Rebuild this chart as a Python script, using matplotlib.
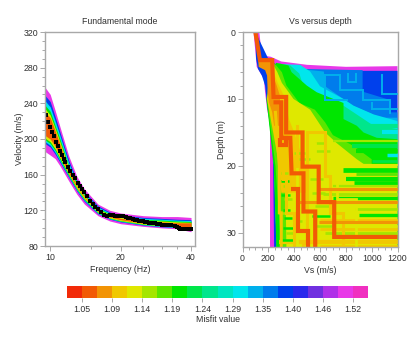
import matplotlib
matplotlib.use("Agg")
import matplotlib.pyplot as plt
from matplotlib.colors import ListedColormap
from matplotlib.ticker import FixedLocator, NullFormatter, FixedFormatter

plt.rcParams['font.family'] = ['Liberation Sans', 'DejaVu Sans']
FS = 6.3

W, H = 413, 358
GRAY = '#a8a8a8'
TXT = '#303030'

colors = ['#f22a08','#f25a05','#f29405','#f0c800','#dfe800','#a4e600','#5ae600','#00e600','#00e64a','#00e68c',
          '#00e6c0','#00e6ec','#00b0ec','#007cec','#0040ec','#2a28ec','#7030e0','#b030e8','#e838e8','#f030c0']
cbar_labels = ['1.05','1.09','1.14','1.19','1.24','1.29','1.35','1.40','1.46','1.52']

# --- dispersion curves
freq = [9.5,10,10.5,11,12,13,14,16,18,20,25,30,35,40]
mag_up = [258,250,232,214,181,158,144,127,120,117,114,113,113,112]
blu_up = [249,242,225,208,176,154,141,125,118,115,112,111,110,109.5]
cya_up = [243,236,220,204,173,152,139,123.5,117,114,111,110,109,108.5]
grn_up = [238,231,215,200,170,150,137.5,122.5,116,113,110,109,108,107.5]
yel_up = [234,227,212,197,168,148.5,136.5,121.5,115,112,109,108,107,106.5]
org_up = [230,224,209,194,166,147,135.5,120.5,114.5,111,108,107,106,106]
org_lo = [204,200,192,181,162,146,134.5,119,112.5,109.5,105.5,103.5,102.5,98.5]
yel_lo = [201,197,189,179,160.5,144.5,133,118,111.5,108.5,104.7,102.8,101.8,98]
grn_lo = [199,195,187,177,159,143.5,132,117.2,111,108,104.2,102.3,101.3,97.7]
cya_lo = [197,193,185,175.5,158,142.5,131,116.5,110.5,107.5,103.8,101.9,100.9,97.4]
blu_lo = [195,191,183,174,157,141.5,130,116,110,107,103.4,101.5,100.5,97.1]
mag_lo = [186,182,178,170,153,138,127,114,108,105,102,100.3,99.3,96]

obs_f = [9.6,9.8,10,10.2,10.4,10.6,10.8,11,11.2,11.4,11.6,11.9,12.2,12.5,12.8,13.1,13.4,13.7,14,14.4,14.8,15.2,15.6,
         16,16.5,17,17.5,18,18.5,19,19.5,20,20.5,21,21.5,22,22.5,23,23.5,24,24.5,25,25.5,26,26.5,27,27.5,28,28.5,29,
         29.5,30,31,32,33,34,35,35.5,36,36.5,37,37.5,38,38.5,39,39.5,40]
obs_v = [227,219,214,208,203,197,192,187,182,178,174,169,164,160,156,151,147,144,141,136,131,127,124,
         121,118,115,114,115,115,114,114,114,114,112,111,111,110,109,109,108,108,108,107,107,106,106,106,106,105,105,
         105,104,104,103,103,102,101,100,99,99,99,99,99,99,99,99,99]

# --- Vs profiles: broad colour regions
mag_vs = [85,100,110,165,175,190,205,213,213,1200,1200,800,500,300,220,150,130]
mag_d  = [0,3,5.2,7,9,11.5,13,14,32.2,32.2,5.1,5.2,4.9,4.4,3.7,3.5,0]
blue_vs = [200,240,300,500,800,1200,1200,245,237,225,195,175,150,120,105,100]
blue_d  = [4,4.6,5.2,5.6,5.8,5.8,32.2,32.2,20,14,11.5,8,6.5,5.5,4,0]
mid_vs = [400,930,930,1150,1150,1200,1200,265,250,230,200]
mid_d  = [5.5,5.7,8.9,10.2,12,12,32.2,32.2,24,14,10]
lblue_vs = [380,530,630,640,780,850,1010,1040,1200,1200,265,245,205]
lblue_d  = [5.4,5.7,5.9,8.1,10,11,12.3,12.8,12.8,32.2,32.2,20,11]
cyan_vs = [300,446,524,600,782,860,1014,1200,1200,265,245,195]
cyan_d  = [4.8,4.9,5.9,8.1,10,11,12.3,13.3,32.2,32.2,20,11]
aqua_vs = [280,370,440,470,570,640,782,860,1000,1200,1200,265,245,190]
aqua_d  = [4.7,5.0,6.2,8,9,10,11,12,13.8,14.5,32.2,32.2,20,10]
green_vs = [260,356,380,498,575,782,782,885,937,1040,1200,1200,262,242,185]
green_d  = [4.6,5,6,8,9,10.6,13,14,15,15.8,16,32.2,32.2,20,10]
lime_vs = [240,305,340,440,560,640,700,860,1000,1000,300,255,190]
lime_d  = [4.5,6,8,10.6,11.6,13.5,15.4,17,19,32.2,32.2,20,10]
yellow_vs = [225,270,305,395,524,640,730,885,960,1200,1200,340,330,195]
yellow_d  = [4.4,6,7.6,10,11.6,15,16.6,19,20,20,32.2,32.2,20,10]
amber_vs = [215,240,270,320,360,400,450,490,490,300,285,190]
amber_d  = [4.3,6,7.5,9.5,13,15,18,20,24,24,20,10]
orange_vs = [95,135,230,245,265,290,290,260,245,230,205,195,190,175,125,110]
orange_d  = [0,4,4.3,7,8,9.5,14,14,14,12,10.5,9,6.5,5.7,5.2,0]

regions = [(mag_vs,mag_d,colors[18]),(blue_vs,blue_d,colors[14]),(mid_vs,mid_d,colors[13]),(lblue_vs,lblue_d,colors[12]),
           (cyan_vs,cyan_d,colors[11]),(aqua_vs,aqua_d,colors[9]),(green_vs,green_d,colors[7]),(lime_vs,lime_d,colors[6]),
           (yellow_vs,yellow_d,colors[4]),(amber_vs,amber_d,colors[3]),(orange_vs,orange_d,colors[2])]

# --- stripes reaching the right edge
stripe_d  = [14,15,16.3,17,17.8,18.3,19.3,19.9,20.6,21.2,21.9,22.5,23,24.2,24.8,26.5,27.3,28,29,29.4,30,31.4,31.9]
stripe_x  = [900,1080,700,850,880,1120,1000,700,780,880,800,860,700,620,700,870,900,600,500,600,640,280,600]
stripe_c  = [9,11,5,8,7,11,8,4,7,6,7,7,5,5,7,5,7,3,4,3,5,3,3]
stripe_lw = [3,3,1.6,3,3,2.5,2,1.6,3.4,2,3,3.4,1.6,2,2.4,2,2.4,2,2,2,2,3,2]

# --- short marks of texture in the lower half
short_d  = [21,22.2,23,24.4,25,26.6,27,27.8,28.2,29.2,30,31,18,19,20,22,24,26,27.5,29,16.5,17.8]
short_x0 = [300,300,310,300,320,310,300,320,400,310,340,300,400,440,520,520,540,560,540,560,560,560]
short_x1 = [350,360,345,370,380,370,390,380,460,390,400,400,480,520,600,620,640,700,680,700,640,680]
short_c  = [5,7,5,7,5,7,5,7,5,7,5,7,5,5,5,5,5,5,7,5,5,5]

blue2_vs = [[626,755,755,936,936,1142,1142],[639,639,810],[1077,1077,1200],[820,820,880,880],[1000,1000,1200]]
blue2_d  = [[6.4,6.4,8.6,8.6,10.2,10.2,12.1],[6.4,10.2,10.2],[6.4,9.2,9.2],[6.3,7.5,7.5,6.3],[10.6,11.5,11.5]]

amber1_vs = [300,300,285,285,255]
amber1_d  = [32,27,27,20,12]
amber2_vs = [400,400,340,340,310,310]
amber2_d  = [32,27,27,22,22,14]
amber3_vs = [470,470,500,500,640,640,680,680,780,780]
amber3_d  = [32,31.5,31.5,15,15,21.5,21.5,27,27,32]
amber4_vs = [420,420,500,500]
amber4_d  = [14,20,20,25]
yellow2_vs = [420,420,560,560,730,730,880,880]
yellow2_d  = [32,16.6,16.6,19,19,25,25,32]

# best-fit profiles
p1_vs = [100,135,135,230,240,240,338,338,465,465,590,590,710,710,1200]
p1_d  = [0,4.2,4.2,4.2,9.7,9.7,9.7,15,15,20.1,20.1,25.4,25.4,30.6,30.6]
p2_vs = [240,300,300,370,380,380,472,472,563,563]
p2_d  = [10.5,10.5,15.8,15.8,21.1,21.1,21.1,26.8,26.8,32.2]
p3_vs = [378,433,433,510,510]
p3_d  = [23.5,23.5,29.7,29.7,32.2]
p4_vs = [290,290,340,340,290]
p4_d  = [15.8,16.8,16.8,15.8,15.8]
p5_vs = [590,1200]
p5_d  = [23.5,23.5]
p6_vs = [590,1200]
p6_d  = [28.4,28.4]
p7_vs = [433,1200]
p7_d  = [25.4,25.4]


def add_ax(x0, y0, x1, y1):
    ax = fig.add_axes([x0/W, 1-y1/H, (x1-x0)/W, (y1-y0)/H])
    for s in ax.spines.values():
        s.set_color(GRAY); s.set_linewidth(1)
    ax.tick_params(which='major', length=3.5, width=0.7, color=GRAY, labelcolor=TXT, pad=1.2, labelsize=FS)
    ax.tick_params(which='minor', length=2, width=0.7, color=GRAY)
    return ax


fig = plt.figure(figsize=(W/100, H/100), dpi=100)

# left panel
ax1 = add_ax(45, 32, 195, 246)
ax1.set_xscale('log')
ax1.set_xlim(9.5, 41.6)
ax1.set_ylim(80, 320)
for up, lo, c in [(mag_up,mag_lo,colors[18]),(blu_up,blu_lo,colors[14]),(cya_up,cya_lo,colors[11]),
                  (grn_up,grn_lo,colors[7]),(yel_up,yel_lo,colors[4]),(org_up,org_lo,colors[1])]:
    ax1.fill_between(freq, lo, up, color=c, lw=0)
ax1.plot(obs_f, obs_v, ls='none', marker='s', ms=3.2, color='black', mew=0)
ax1.xaxis.set_major_locator(FixedLocator([10,20,40]))
ax1.xaxis.set_minor_locator(FixedLocator([15,25,30,35]))
ax1.xaxis.set_major_formatter(FixedFormatter(['10','20','40']))
ax1.xaxis.set_minor_formatter(NullFormatter())
ax1.set_yticks([80,120,160,200,240,280,320])
ax1.yaxis.set_minor_locator(FixedLocator(range(90,320,10)))
ax1.set_xlabel('Frequency (Hz)', color=TXT, fontsize=FS, labelpad=2.5)
ax1.set_ylabel('Velocity (m/s)', color=TXT, fontsize=FS, labelpad=0)
ax1.set_title('Fundamental mode', color=TXT, fontsize=FS, pad=6)

# right panel
ax2 = add_ax(242.5, 32, 397.5, 247)
ax2.set_xlim(0, 1200)
ax2.set_ylim(32.1, 0)
for vs, d, c in regions:
    ax2.fill(vs, d, color=c, lw=0)
for vs, d in zip(blue2_vs, blue2_d):
    ax2.plot(vs, d, color=colors[12], lw=1.4, solid_joinstyle='miter')
for d, x, c, lw in zip(stripe_d, stripe_x, stripe_c, stripe_lw):
    ax2.plot([x, 1200], [d, d], color=colors[c], lw=lw, solid_capstyle='butt')
for d, a, b, c in zip(short_d, short_x0, short_x1, short_c):
    ax2.plot([a, b], [d, d], color=colors[c], lw=1.8, solid_capstyle='butt')
ax2.plot(yellow2_vs, yellow2_d, color=colors[4], lw=2, solid_joinstyle='miter')
for vs, d in [(amber1_vs,amber1_d),(amber2_vs,amber2_d),(amber3_vs,amber3_d),(amber4_vs,amber4_d)]:
    ax2.plot(vs, d, color=colors[3], lw=2.2, solid_joinstyle='miter')
for vs, d in [(p5_vs,p5_d),(p6_vs,p6_d),(p7_vs,p7_d)]:
    ax2.plot(vs, d, color=colors[2], lw=2.2, solid_capstyle='butt')
for vs, d in [(p1_vs,p1_d),(p2_vs,p2_d),(p3_vs,p3_d),(p4_vs,p4_d)]:
    ax2.plot(vs, d, color=colors[1], lw=3, solid_joinstyle='miter', solid_capstyle='butt')
ax2.set_xticks([0,200,400,600,800,1000,1200])
ax2.xaxis.set_minor_locator(FixedLocator(range(50,1200,50)))
ax2.set_yticks([0,10,20,30])
ax2.yaxis.set_minor_locator(FixedLocator(range(2,32,2)))
ax2.set_xlabel('Vs (m/s)', color=TXT, fontsize=FS, labelpad=2.5)
ax2.set_ylabel('Depth (m)', color=TXT, fontsize=FS, labelpad=0)
ax2.set_title('Vs versus depth', color=TXT, fontsize=FS, pad=6)

# colour bar
cax = fig.add_axes([67/W, 1-298/H, 301/W, 12/H])
cax.pcolormesh([list(range(len(colors)))], cmap=ListedColormap(colors), vmin=-0.5, vmax=len(colors)-0.5)
for s in cax.spines.values():
    s.set_visible(False)
cax.set_yticks([])
cax.set_xticks(list(range(1, len(colors), 2)))
cax.set_xticklabels(cbar_labels, color=TXT, fontsize=FS)
cax.tick_params(length=3, width=0.7, color=GRAY, pad=2)
cax.set_xlabel('Misfit value', color=TXT, fontsize=FS, labelpad=1)

fig.savefig('out.png', dpi=100)
